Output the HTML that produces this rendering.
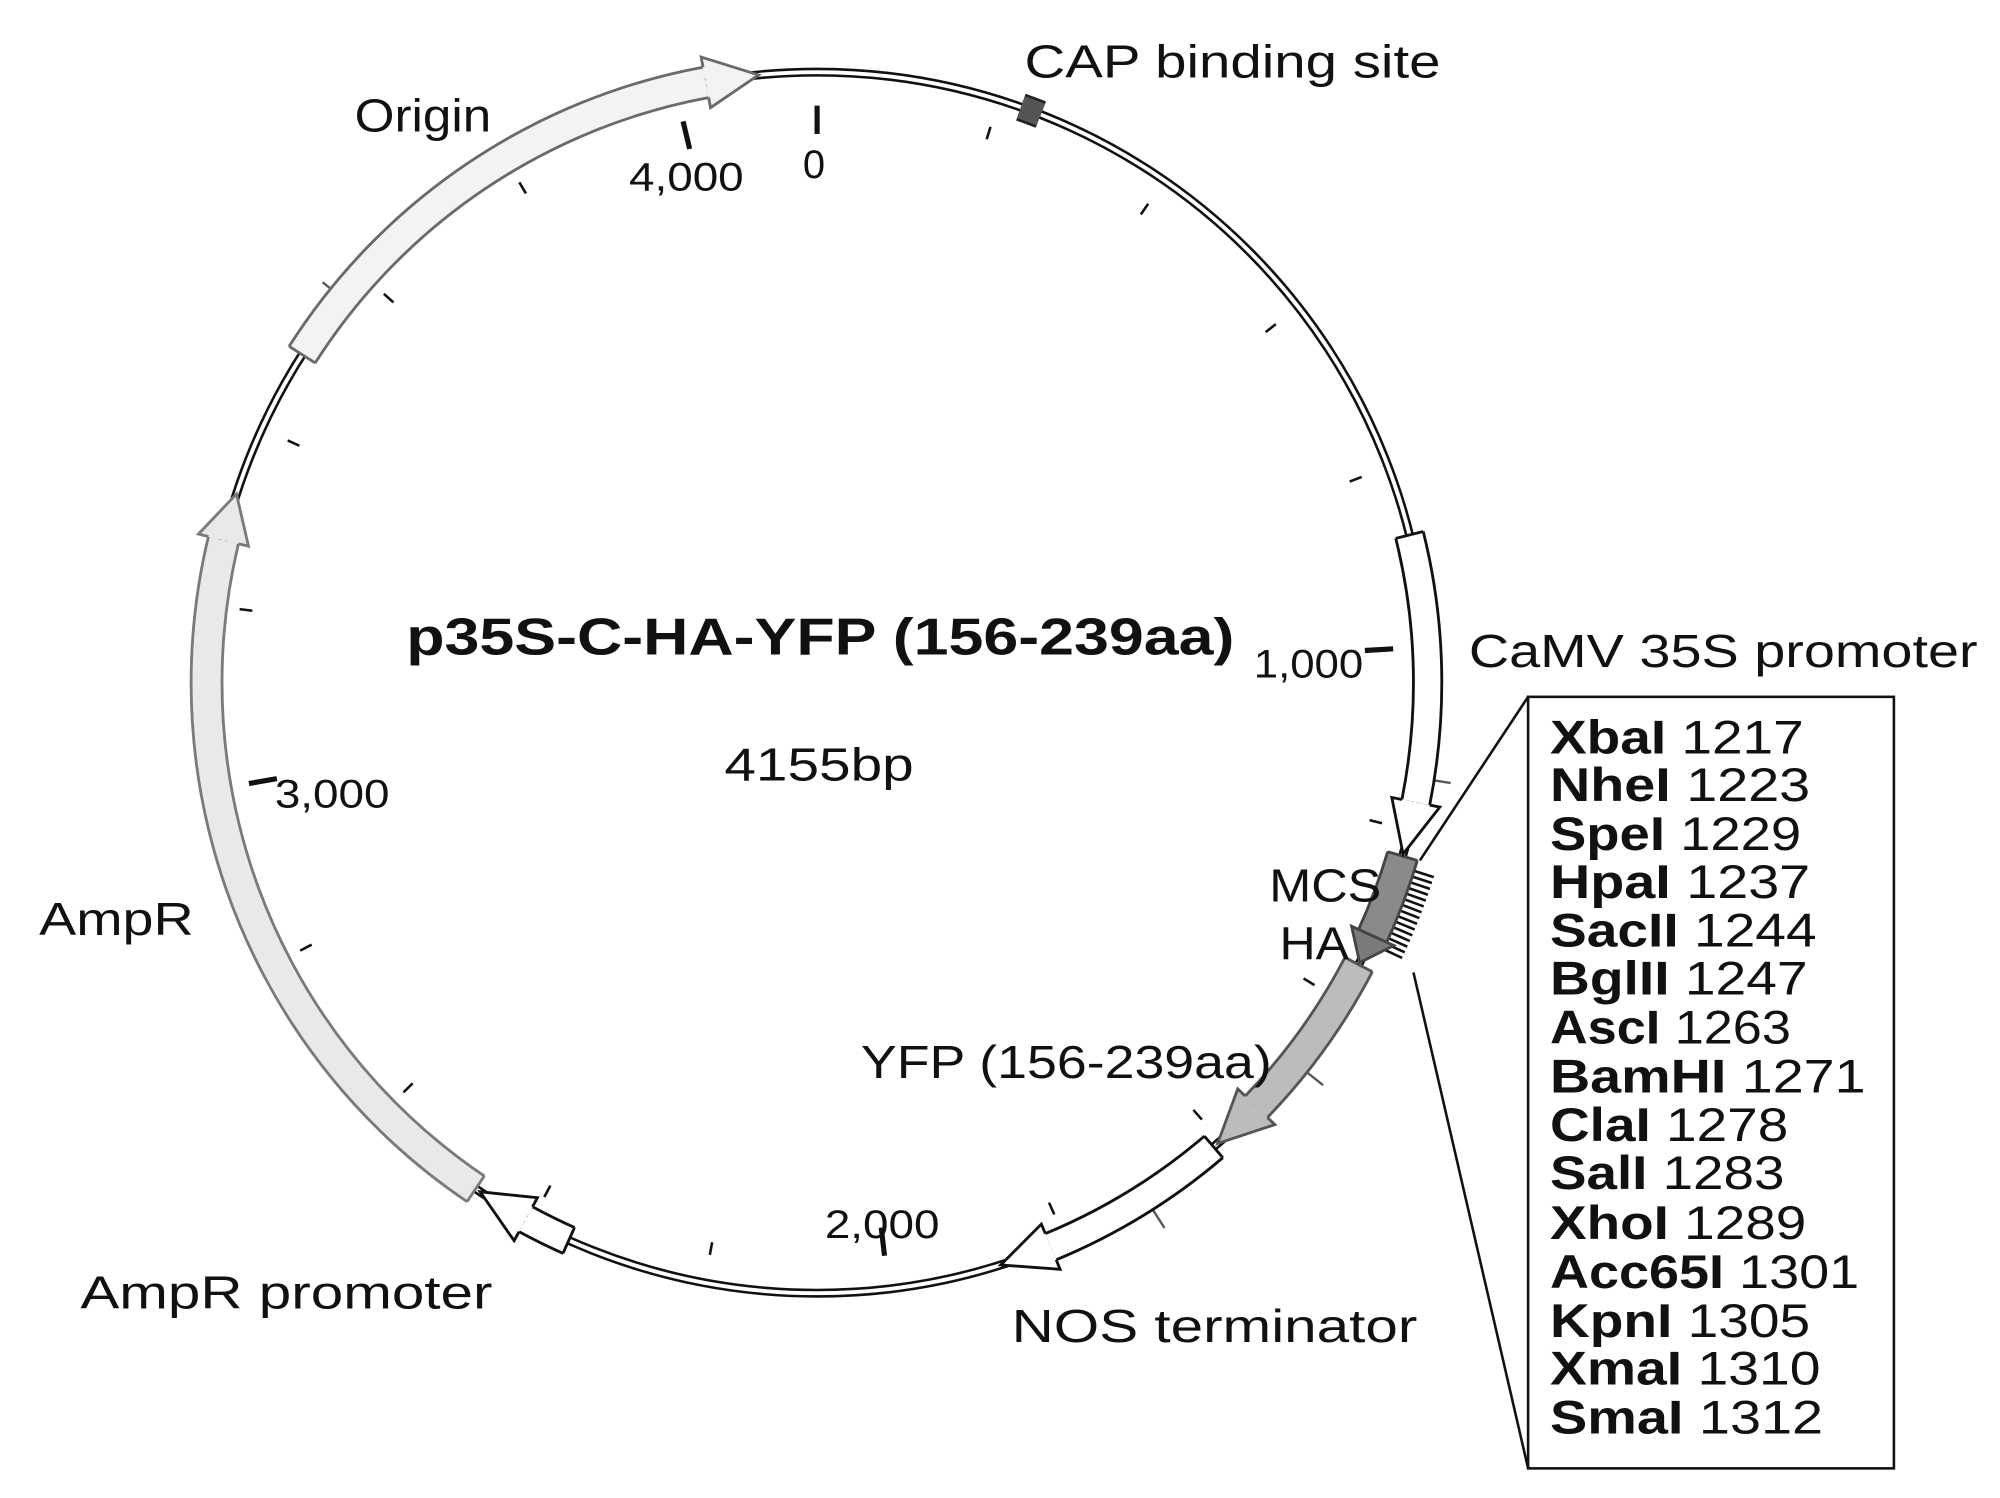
<!DOCTYPE html>
<html><head><meta charset="utf-8"><style>
html,body{margin:0;padding:0;background:#fff;}
svg{display:block;}
text{font-family:"Liberation Sans",sans-serif;fill:#111;}
</style></head><body>
<svg width="2000" height="1498" viewBox="0 0 1552 1163" xmlns="http://www.w3.org/2000/svg">
<rect width="1552" height="1163" fill="#fff"/>
<!-- backbone -->
<circle cx="634" cy="530" r="476.5" fill="none" stroke="#111" stroke-width="2"/>
<circle cx="634" cy="530" r="471.5" fill="none" stroke="#111" stroke-width="2"/>
<!-- ticks -->
<g stroke="#111" stroke-width="2">
<line x1="634" y1="78" x2="634" y2="88" transform="rotate(17.33 634 530)"/>
<line x1="634" y1="78" x2="634" y2="88" transform="rotate(34.66 634 530)"/>
<line x1="634" y1="78" x2="634" y2="88" transform="rotate(51.99 634 530)"/>
<line x1="634" y1="78" x2="634" y2="88" transform="rotate(69.31 634 530)"/>
<line x1="634" y1="78" x2="634" y2="88" transform="rotate(103.97 634 530)"/>
<line x1="634" y1="78" x2="634" y2="88" transform="rotate(121.3 634 530)"/>
<line x1="634" y1="78" x2="634" y2="88" transform="rotate(138.63 634 530)"/>
<line x1="634" y1="78" x2="634" y2="88" transform="rotate(155.96 634 530)"/>
<line x1="634" y1="78" x2="634" y2="88" transform="rotate(190.62 634 530)"/>
<line x1="634" y1="78" x2="634" y2="88" transform="rotate(207.94 634 530)"/>
<line x1="634" y1="78" x2="634" y2="88" transform="rotate(225.27 634 530)"/>
<line x1="634" y1="78" x2="634" y2="88" transform="rotate(242.6 634 530)"/>
<line x1="634" y1="78" x2="634" y2="88" transform="rotate(277.26 634 530)"/>
<line x1="634" y1="78" x2="634" y2="88" transform="rotate(294.59 634 530)"/>
<line x1="634" y1="78" x2="634" y2="88" transform="rotate(311.91 634 530)"/>
<line x1="634" y1="78" x2="634" y2="88" transform="rotate(329.24 634 530)"/>
</g>
<g stroke="#111" stroke-width="4">
<line x1="634" y1="82" x2="634" y2="104"/>
<line x1="634" y1="82" x2="634" y2="104" transform="rotate(86.64 634 530)"/>
<line x1="634" y1="82" x2="634" y2="104" transform="rotate(173.29 634 530)"/>
<line x1="634" y1="82" x2="634" y2="104" transform="rotate(259.93 634 530)"/>
<line x1="634" y1="82" x2="634" y2="104" transform="rotate(346.57 634 530)"/>
</g>
<!-- outer feature ticks -->
<g stroke="#555" stroke-width="1.8">
<line x1="634" y1="46" x2="634" y2="32" transform="rotate(99 634 530)"/>
<line x1="634" y1="46" x2="634" y2="28" transform="rotate(128.5 634 530)"/>
<line x1="634" y1="46" x2="634" y2="28" transform="rotate(147.5 634 530)"/>
<line x1="634" y1="46" x2="634" y2="36" transform="rotate(309 634 530)"/>
</g>
<!-- hash lines (cut sites) -->
<g stroke="#111" stroke-width="2">
<line x1="634" y1="44" x2="634" y2="28" transform="rotate(107.5 634 530)"/>
<line x1="634" y1="44" x2="634" y2="28" transform="rotate(108.05 634 530)"/>
<line x1="634" y1="44" x2="634" y2="28" transform="rotate(108.6 634 530)"/>
<line x1="634" y1="44" x2="634" y2="28" transform="rotate(109.15 634 530)"/>
<line x1="634" y1="44" x2="634" y2="28" transform="rotate(109.7 634 530)"/>
<line x1="634" y1="44" x2="634" y2="28" transform="rotate(110.25 634 530)"/>
<line x1="634" y1="44" x2="634" y2="28" transform="rotate(110.8 634 530)"/>
<line x1="634" y1="44" x2="634" y2="28" transform="rotate(111.35 634 530)"/>
<line x1="634" y1="44" x2="634" y2="28" transform="rotate(111.9 634 530)"/>
<line x1="634" y1="44" x2="634" y2="28" transform="rotate(112.45 634 530)"/>
<line x1="634" y1="44" x2="634" y2="28" transform="rotate(113 634 530)"/>
<line x1="634" y1="44" x2="634" y2="28" transform="rotate(113.55 634 530)"/>
<line x1="634" y1="44" x2="634" y2="28" transform="rotate(114.1 634 530)"/>
<line x1="634" y1="44" x2="634" y2="28" transform="rotate(114.65 634 530)"/>
<line x1="634" y1="44" x2="634" y2="28" transform="rotate(115.2 634 530)"/>
</g>

<g fill="none" transform="rotate(-90 634 530)">
<!-- Origin -->
<circle cx="634" cy="530" r="474" pathLength="360" stroke="#6a6a6a" stroke-width="26.2" stroke-dasharray="0 302.5 47 400"/>
<circle cx="634" cy="530" r="474" pathLength="360" stroke="#f3f3f3" stroke-width="21.8" stroke-dasharray="0 302.5 47 400"/>
<!-- AmpR -->
<circle cx="634" cy="530" r="474" pathLength="360" stroke="#7a7a7a" stroke-width="26.2" stroke-dasharray="0 214 69.5 400"/>
<circle cx="634" cy="530" r="474" pathLength="360" stroke="#e9e9e9" stroke-width="21.8" stroke-dasharray="0 214 69.5 400"/>
<!-- AmpR promoter -->
<circle cx="634" cy="530" r="474" pathLength="360" stroke="#111" stroke-width="24.2" stroke-dasharray="0 204 4.5 400"/>
<circle cx="634" cy="530" r="474" pathLength="360" stroke="#fff" stroke-width="19.8" stroke-dasharray="0 204 4.5 400"/>
<!-- CaMV -->
<circle cx="634" cy="530" r="474" pathLength="360" stroke="#111" stroke-width="24.2" stroke-dasharray="0 76 25.3 400"/>
<circle cx="634" cy="530" r="474" pathLength="360" stroke="#fff" stroke-width="19.8" stroke-dasharray="0 76 25.3 400"/>
<!-- NOS -->
<circle cx="634" cy="530" r="474" pathLength="360" stroke="#111" stroke-width="24.2" stroke-dasharray="0 139.5 18 400"/>
<circle cx="634" cy="530" r="474" pathLength="360" stroke="#fff" stroke-width="19.8" stroke-dasharray="0 139.5 18 400"/>
<!-- YFP -->
<circle cx="634" cy="530" r="474" pathLength="360" stroke="#555" stroke-width="26.2" stroke-dasharray="0 117.5 16.5 400"/>
<circle cx="634" cy="530" r="474" pathLength="360" stroke="#bcbcbc" stroke-width="21.8" stroke-dasharray="0 117.5 16.5 400"/>
<!-- MCS -->
<circle cx="634" cy="530" r="474" pathLength="360" stroke="#444" stroke-width="26.2" stroke-dasharray="0 106.5 8 400"/>
<circle cx="634" cy="530" r="474" pathLength="360" stroke="#8a8a8a" stroke-width="21.8" stroke-dasharray="0 106.5 8 400"/>
<!-- CAP -->
<circle cx="634" cy="530" r="474" pathLength="360" stroke="#222" stroke-width="22" stroke-dasharray="0 19.5 2 400"/>
<circle cx="634" cy="530" r="474" pathLength="360" stroke="#555" stroke-width="18" stroke-dasharray="0 19.5 2 400"/>
</g>
<!-- tail lines -->
<g stroke-width="2.2">
<line x1="634" y1="68" x2="634" y2="44" stroke="#6a6a6a" transform="rotate(302.5 634 530)"/>
<line x1="634" y1="68" x2="634" y2="44" stroke="#7a7a7a" transform="rotate(214 634 530)"/>
<line x1="634" y1="67" x2="634" y2="45" stroke="#111" transform="rotate(204 634 530)"/>
<line x1="634" y1="67" x2="634" y2="45" stroke="#111" transform="rotate(76 634 530)"/>
<line x1="634" y1="67" x2="634" y2="45" stroke="#111" transform="rotate(139.5 634 530)"/>
<line x1="634" y1="68" x2="634" y2="44" stroke="#555" transform="rotate(117.5 634 530)"/>
<line x1="634" y1="68" x2="634" y2="44" stroke="#444" transform="rotate(106.5 634 530)"/>
</g>
<!-- heads -->
<g stroke-width="2.2" stroke-linejoin="miter">
<path d="M593.73,69.76 L594.43,77.73 L634,56 L590.94,37.88 L591.64,45.85" fill="#f3f3f3" stroke="#6a6a6a" transform="rotate(354.5 634 530)"/>
<path d="M597.75,69.42 L598.38,77.40 L634,56 L595.24,37.52 L595.87,45.50" fill="#e9e9e9" stroke="#7a7a7a" transform="rotate(288 634 530)"/>
<path d="M593.64,68.76 L594.34,76.73 L634,56 L591.03,38.88 L591.73,46.85" fill="#fff" stroke="#111" transform="rotate(213.5 634 530)"/>
<path d="M593.64,68.76 L594.34,76.73 L634,56 L591.03,38.88 L591.73,46.85" fill="#fff" stroke="#111" transform="rotate(106.3 634 530)"/>
<path d="M593.64,68.76 L594.34,76.73 L634,56 L591.03,38.88 L591.73,46.85" fill="#fff" stroke="#111" transform="rotate(162.5 634 530)"/>
<path d="M593.73,69.76 L594.43,77.73 L634,56 L590.94,37.88 L591.64,45.85" fill="#bcbcbc" stroke="#555" transform="rotate(139 634 530)"/>
<path d="M611.43,68.55 L611.72,74.54 L634,56 L609.97,38.59 L610.26,44.58 Z" fill="#7a7a7a" stroke="#444" transform="rotate(117.3 634 530)"/>
</g>

<g font-size="36">
<text x="795" y="60" textLength="323" lengthAdjust="spacingAndGlyphs">CAP binding site</text>
<text x="275" y="102" textLength="106" lengthAdjust="spacingAndGlyphs">Origin</text>
<text x="488" y="148" font-size="31" textLength="89" lengthAdjust="spacingAndGlyphs">4,000</text>
<text x="623" y="138" font-size="31">0</text>
<text x="315" y="508" font-size="40" font-weight="bold" textLength="643" lengthAdjust="spacingAndGlyphs">p35S-C-HA-YFP (156-239aa)</text>
<text x="562" y="606" textLength="147" lengthAdjust="spacingAndGlyphs">4155bp</text>
<text x="973" y="526" font-size="31" textLength="85" lengthAdjust="spacingAndGlyphs">1,000</text>
<text x="1140" y="518" textLength="395" lengthAdjust="spacingAndGlyphs">CaMV 35S promoter</text>
<text x="213" y="627" font-size="31" textLength="89" lengthAdjust="spacingAndGlyphs">3,000</text>
<text x="30" y="726" textLength="120" lengthAdjust="spacingAndGlyphs">AmpR</text>
<text x="985" y="700" textLength="87" lengthAdjust="spacingAndGlyphs">MCS</text>
<text x="993" y="745" textLength="54" lengthAdjust="spacingAndGlyphs">HA</text>
<text x="668" y="837" textLength="319" lengthAdjust="spacingAndGlyphs">YFP (156-239aa)</text>
<text x="640" y="961" font-size="31" textLength="89" lengthAdjust="spacingAndGlyphs">2,000</text>
<text x="62" y="1016" textLength="320" lengthAdjust="spacingAndGlyphs">AmpR promoter</text>
<text x="785" y="1042" textLength="315" lengthAdjust="spacingAndGlyphs">NOS terminator</text>
</g>
<rect x="1186" y="541" width="284" height="599" fill="none" stroke="#111" stroke-width="2"/>
<line x1="1186" y1="541" x2="1102" y2="668" stroke="#111" stroke-width="2"/>
<line x1="1186" y1="1140" x2="1097" y2="755" stroke="#111" stroke-width="2"/>
<g font-size="37">
<text x="1203" y="585" textLength="197" lengthAdjust="spacingAndGlyphs"><tspan font-weight="bold">XbaI</tspan> 1217</text>
<text x="1203" y="622" textLength="202" lengthAdjust="spacingAndGlyphs"><tspan font-weight="bold">NheI</tspan> 1223</text>
<text x="1203" y="660" textLength="195" lengthAdjust="spacingAndGlyphs"><tspan font-weight="bold">SpeI</tspan> 1229</text>
<text x="1203" y="697" textLength="202" lengthAdjust="spacingAndGlyphs"><tspan font-weight="bold">HpaI</tspan> 1237</text>
<text x="1203" y="735" textLength="207" lengthAdjust="spacingAndGlyphs"><tspan font-weight="bold">SacII</tspan> 1244</text>
<text x="1203" y="772" textLength="200" lengthAdjust="spacingAndGlyphs"><tspan font-weight="bold">BglII</tspan> 1247</text>
<text x="1203" y="810" textLength="187" lengthAdjust="spacingAndGlyphs"><tspan font-weight="bold">AscI</tspan> 1263</text>
<text x="1203" y="848" textLength="245" lengthAdjust="spacingAndGlyphs"><tspan font-weight="bold">BamHI</tspan> 1271</text>
<text x="1203" y="886" textLength="185" lengthAdjust="spacingAndGlyphs"><tspan font-weight="bold">ClaI</tspan> 1278</text>
<text x="1203" y="923" textLength="182" lengthAdjust="spacingAndGlyphs"><tspan font-weight="bold">SalI</tspan> 1283</text>
<text x="1203" y="962" textLength="199" lengthAdjust="spacingAndGlyphs"><tspan font-weight="bold">XhoI</tspan> 1289</text>
<text x="1203" y="1000" textLength="240" lengthAdjust="spacingAndGlyphs"><tspan font-weight="bold">Acc65I</tspan> 1301</text>
<text x="1203" y="1038" textLength="202" lengthAdjust="spacingAndGlyphs"><tspan font-weight="bold">KpnI</tspan> 1305</text>
<text x="1203" y="1075" textLength="210" lengthAdjust="spacingAndGlyphs"><tspan font-weight="bold">XmaI</tspan> 1310</text>
<text x="1203" y="1113" textLength="212" lengthAdjust="spacingAndGlyphs"><tspan font-weight="bold">SmaI</tspan> 1312</text>
</g>
</svg>
</body></html>
